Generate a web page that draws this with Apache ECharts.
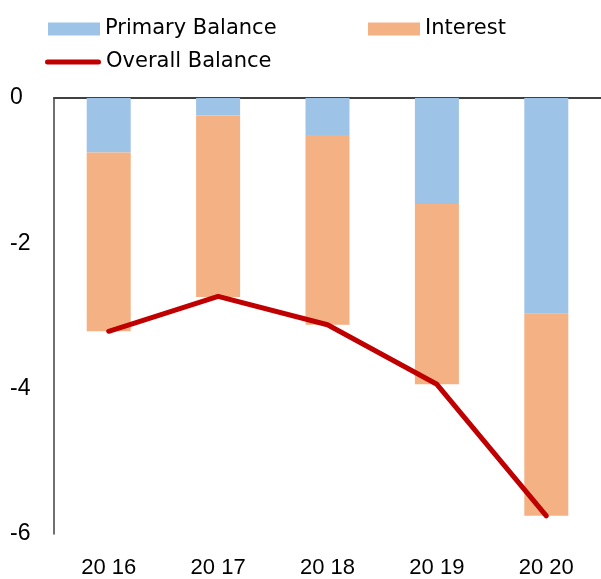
<!DOCTYPE html>
<html>
<head>
<meta charset="utf-8">
<script src="https://cdn.jsdelivr.net/npm/echarts@6/dist/echarts.min.js"></script>
<style>html,body{margin:0;padding:0;background:#fff;}#c{width:601px;height:579px;}</style>
</head>
<body>
<div id="c"></div>
<script>
const categories = ['20 16', '20 17', '20 18', '20 19', '20 20'];
const primaryBalance = [-0.75, -0.24, -0.51, -1.46, -2.97];
const interest = [-2.46, -2.50, -2.61, -2.48, -2.78];
const overallBalance = [-3.21, -2.73, -3.12, -3.94, -5.75];
const yTicks = [0, -2, -4, -6];

const chart = echarts.init(document.getElementById('c'), null, {renderer: 'canvas'});
const legendText = {fontFamily: 'DejaVu Sans', fontSize: 21, color: '#000', lineHeight: 22};
const option = {
  animation: false,
  backgroundColor: '#fff',
  legend: [
    {data: ['Primary Balance'], left: 43, top: 13, itemWidth: 52, itemHeight: 13, icon: 'rect', textStyle: legendText, selectedMode: false},
    {data: ['Interest'], left: 363, top: 13, itemWidth: 52, itemHeight: 13, icon: 'rect', textStyle: legendText, selectedMode: false},
    {data: [{name: 'Overall Balance', icon: 'path://M2.5,0 L53.5,0 A2.5,2.5 0 0 1 53.5,5 L2.5,5 A2.5,2.5 0 0 1 2.5,0 Z'}], left: 40, top: 46, itemWidth: 56, itemHeight: 5, textStyle: legendText, selectedMode: false}
  ],
  grid: {left: 54, top: 98, width: 550, height: 439, containLabel: false},
  xAxis: [
    {type: 'category', data: categories, position: 'bottom',
     axisLine: {show: false, onZero: false}, axisTick: {show: false},
     axisLabel: {fontFamily: 'Liberation Sans', fontSize: 22, color: '#000', margin: 23}},
    {type: 'category', data: categories, position: 'top',
     axisLine: {show: true, onZero: false, lineStyle: {color: '#404040', width: 2}}, axisTick: {show: false},
     axisLabel: {show: false}}
  ],
  yAxis: {
    type: 'value', min: -6, max: 0, interval: 2,
    axisLine: {show: true, lineStyle: {color: '#404040', width: 1.5}},
    axisTick: {show: false}, splitLine: {show: false},
    axisLabel: {fontFamily: 'Liberation Sans', fontSize: 23, color: '#000', align: 'left', margin: 44,
      formatter: v => yTicks.includes(v) ? String(v) : ''}
  },
  series: [
    {name: 'Primary Balance', type: 'bar', stack: 'a', data: primaryBalance, barWidth: 44, itemStyle: {color: '#9DC3E6'}},
    {name: 'Interest', type: 'bar', stack: 'a', data: interest, barWidth: 44, itemStyle: {color: '#F4B183'}},
    {name: 'Overall Balance', type: 'line', data: overallBalance, symbol: 'none', z: 5,
     lineStyle: {color: '#C00000', width: 5, cap: 'round', join: 'round'}, itemStyle: {color: '#C00000'}}
  ]
};
chart.setOption(option);
</script>
</body>
</html>
